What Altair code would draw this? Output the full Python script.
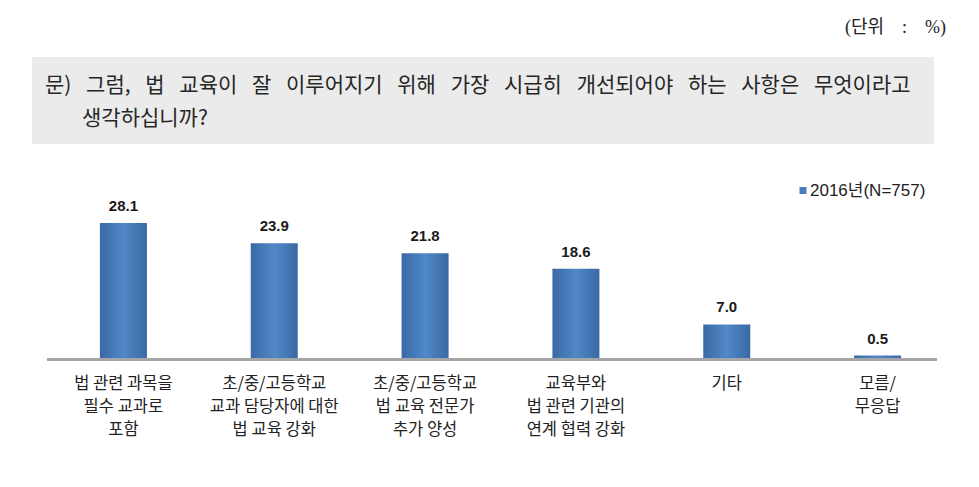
import altair as alt
import pandas as pd

categories = [
    "법 관련 과목을\n필수 교과로\n포함",
    "초/중/고등학교\n교과 담당자에  대한\n법 교육 강화",
    "초/중/고등학교\n법 교육 전문가\n추가 양성",
    "교육부와\n법 관련 기관의\n연계 협력 강화",
    "기타",
    "모름/\n무응답",
]
values = [28.1, 23.9, 21.8, 18.6, 7.0, 0.5]
series_name = "2016년(N=757)"
question_line1 = "문) 그럼, 법 교육이 잘 이루어지기 위해 가장 시급히 개선되어야 하는 사항은 무엇이라고"
question_line2 = "생각하십니까?"
unit_text = "(단위 : %)"

KFONT = "Noto Sans CJK KR"
NFONT = "Liberation Sans"

df = pd.DataFrame({
    "category": categories,
    "value": values,
    "label": [f"{v:.1f}" for v in values],
})
one = pd.DataFrame({"k": [0]})

x_enc = alt.X(
    "category:N",
    sort=categories,
    scale=alt.Scale(paddingInner=0, paddingOuter=0),
    axis=alt.Axis(
        title=None, domain=False, ticks=False, grid=False, labelAngle=0,
        labelExpr="split(datum.label, '\\n')",
        labelFont=KFONT, labelFontSize=16.5, labelLineHeight=23,
        labelPadding=17, labelBaseline="top", labelColor="#222222",
        labelLimit=200,
    ),
)
y_enc = alt.Y("value:Q", scale=alt.Scale(domain=[0, 30], nice=False), axis=None)

grad = alt.LinearGradient(
    gradient="linear",
    stops=[
        alt.GradientStop(color="#3a69a4", offset=0),
        alt.GradientStop(color="#5088c8", offset=0.5),
        alt.GradientStop(color="#3a69a4", offset=1),
    ],
    x1=0, x2=1, y1=0, y2=0,
)

bars = alt.Chart(df).mark_bar(size=47, color=grad).encode(x=x_enc, y=y_enc)
labels = alt.Chart(df).mark_text(
    font=NFONT, fontSize=15, fontWeight="bold", color="#1a1a1a",
    baseline="bottom", dy=-9,
).encode(x=alt.X("category:N", sort=categories), y="value:Q", text="label:N")

base_rule = alt.Chart(one).mark_rule(color="#a6a6a6", strokeWidth=3).encode(
    x=alt.value(-1), x2=alt.value(889), y=alt.value(145.5)
)

box = alt.Chart(one).mark_rect(color="#ebebeb").encode(
    x=alt.value(-16), x2=alt.value(886), y=alt.value(-157), y2=alt.value(-70)
)
q1 = alt.Chart(one).mark_text(
    text=question_line1.replace(" ", "\u2002\u2009"), font=KFONT, fontSize=21, color="#262626",
    align="left", baseline="middle",
).encode(x=alt.value(-3), y=alt.value(-128))
q2 = alt.Chart(one).mark_text(
    text=question_line2, font=KFONT, fontSize=21, color="#262626",
    align="left", baseline="middle",
).encode(x=alt.value(34), y=alt.value(-95))
unit = alt.Chart(one).mark_text(
    text=unit_text.replace(" ", "\u2003"), font="Liberation Serif, " + KFONT, fontSize=18, color="#222222",
    align="right", baseline="middle",
).encode(x=alt.value(898), y=alt.value(-186))
leg_sq = alt.Chart(one).mark_square(size=49, color="#4a7ebb", opacity=1).encode(
    x=alt.value(755), y=alt.value(-23.5)
)
leg_txt = alt.Chart(one).mark_text(
    text=series_name, font=NFONT + ", " + KFONT, fontSize=17, color="#222222",
    align="left", baseline="middle",
).encode(x=alt.value(762), y=alt.value(-23.5))

chart = alt.layer(
    box, q1, q2, unit, leg_sq, leg_txt, bars, base_rule, labels
).properties(
    width=905, height=144,
    padding={"left": 48, "top": 214, "right": 26, "bottom": 129},
    autosize=alt.AutoSizeParams(type="none"),
    background="white",
).configure_view(stroke=None)

chart.save("out.html", embed_options={"renderer": "svg", "actions": False})
